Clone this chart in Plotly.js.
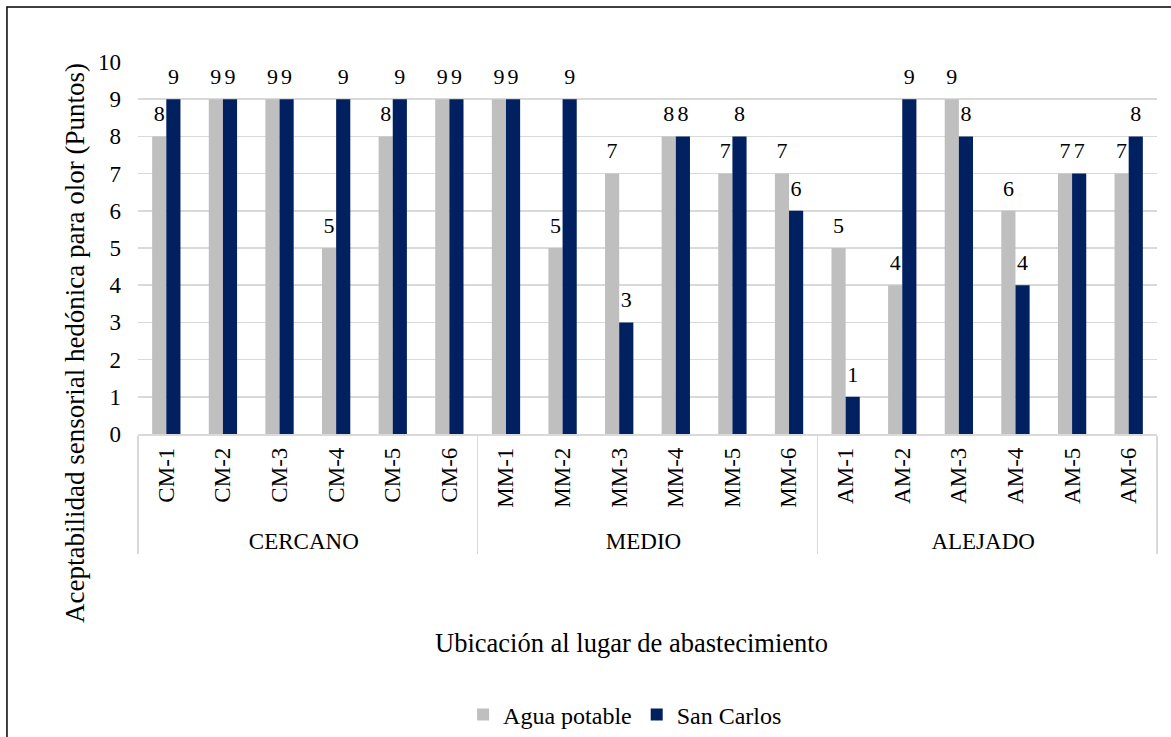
<!DOCTYPE html>
<html><head><meta charset="utf-8">
<script src="https://cdn.plot.ly/plotly-3.0.1.min.js"></script>
<style>html,body{margin:0;padding:0;background:#fff;}#chart{width:1171px;height:737px;}</style>
</head><body><div id="chart"></div>
<script>
const groups = ["CERCANO","CERCANO","CERCANO","CERCANO","CERCANO","CERCANO",
  "MEDIO","MEDIO","MEDIO","MEDIO","MEDIO","MEDIO",
  "ALEJADO","ALEJADO","ALEJADO","ALEJADO","ALEJADO","ALEJADO"];
const sites = ["CM-1","CM-2","CM-3","CM-4","CM-5","CM-6",
  "MM-1","MM-2","MM-3","MM-4","MM-5","MM-6",
  "AM-1","AM-2","AM-3","AM-4","AM-5","AM-6"];
const aguaPotable = [8,9,9,5,8,9, 9,5,7,8,7,7, 5,4,9,6,7,7];
const sanCarlos   = [9,9,9,9,9,9, 9,9,3,8,8,6, 1,9,8,4,7,8];
const seriesNames = ["Agua potable","San Carlos"];
const colors = ['#bfbfbf', '#002060'];

const FONT = "Times New Roman, Liberation Serif, Tinos, DejaVu Serif, serif";
const FS = 23;
function bar(name, vals, color){
  return {type:'bar', name:name, x:[groups, sites], y:vals,
    marker:{color:color}, hoverinfo:'skip', offsetgroup:name};
}
function lbl(name, vals){
  return {type:'scatter', mode:'markers+text', name:name, x:[groups, sites], y:vals,
    marker:{size:14, opacity:0, color:'#fff'}, text:vals.map(String), textposition:'top center',
    textfont:{family:FONT,size:22,color:'#000'}, cliponaxis:false, showlegend:false,
    hoverinfo:'skip', offsetgroup:name};
}
const data = [bar(seriesNames[0], aguaPotable, colors[0]), bar(seriesNames[1], sanCarlos, colors[1]),
              lbl(seriesNames[0], aguaPotable), lbl(seriesNames[1], sanCarlos)];
const layout = {
  width:1171, height:737,
  margin:{l:138, r:14, t:62, b:303, autoexpand:false},
  paper_bgcolor:'#fff', plot_bgcolor:'#fff',
  font:{family:FONT, size:FS, color:'#000'},
  barmode:'group', bargap:0.5, bargroupgap:0,
  scattermode:'group', scattergap:0.5,
  showlegend:true,
  legend:{orientation:'h', x:0.478, xanchor:'center', y:-0.755, yanchor:'middle',
    font:{family:FONT,size:24,color:'#000'}, itemwidth:30, traceorder:'normal'},
  xaxis:{type:'multicategory', tickangle:-90, showgrid:false, showline:true, linecolor:'#d9d9d9', linewidth:1.5,
    showdividers:true, dividercolor:'#d9d9d9', dividerwidth:1.5, ticklabelstandoff:3,
    tickfont:{family:FONT,size:FS,color:'#000'}, ticks:''},
  yaxis:{range:[0,10], dtick:1, showgrid:true, gridcolor:'#d9d9d9', gridwidth:1.5,
    zeroline:false, showline:false, ticks:'', ticklabelstandoff:16,
    tickfont:{family:FONT,size:FS,color:'#000'}},
  annotations:[
    {text:'Aceptabilidad sensorial hedónica para olor (Puntos)', xref:'paper', yref:'paper',
     x:-0.0618, y:0.2446, textangle:-90, showarrow:false, xanchor:'center', yanchor:'middle',
     font:{family:FONT,size:27,color:'#000'}},
    {text:'Ubicación al lugar de abastecimiento', xref:'paper', yref:'paper',
     x:0.484, y:-0.562, showarrow:false, xanchor:'center', yanchor:'middle',
     font:{family:FONT,size:26.5,color:'#000'}}
  ],
  shapes:[
    {type:'rect', xref:'paper', yref:'paper', x0:-0.1286, x1:1.3, y0:-2, y1:1.1478,
     line:{color:'#000', width:1.5}, fillcolor:'rgba(0,0,0,0)', layer:'above'}
  ]
};
Plotly.newPlot('chart', data, layout, {displayModeBar:false, staticPlot:true});
</script></body></html>
